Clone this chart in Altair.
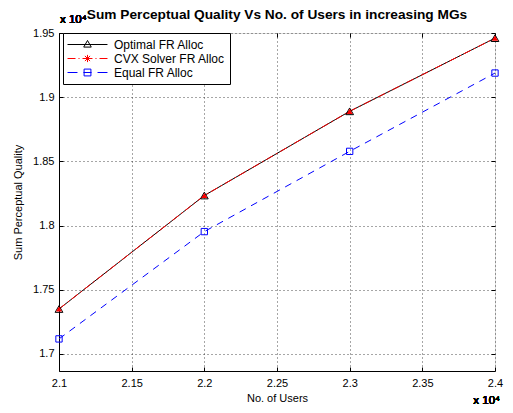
import altair as alt
import pandas as pd

# ---- data ----
users = [21000, 22000, 23000, 24000]
optimal = [17350, 18234, 18890, 19460]
cvx = [17350, 18234, 18890, 19460]
equal = [17117, 17953, 18578, 19188]
series_names = ["Optimal FR Alloc", "CVX Solver FR Alloc", "Equal FR Alloc"]
x_ticks = [21000, 21500, 22000, 22500, 23000, 23500, 24000]
y_ticks = [17000, 17500, 18000, 18500, 19000, 19500]

rows = []
for name, vals in zip(series_names, [optimal, cvx, equal]):
    for u, v in zip(users, vals):
        rows.append({"users": u, "quality": v, "series": name})
df = pd.DataFrame(rows)

FONT = "Liberation Sans"
W, H = 436, 338
xscale = alt.Scale(domain=[21000, 24000], nice=False, zero=False)
yscale = alt.Scale(domain=[16867, 19500], nice=False, zero=False)

xaxis = alt.Axis(values=x_ticks, labelExpr="format(datum.value/10000, '.3~g')",
                 title="No. of Users", grid=True, gridDash=[1, 3], gridColor="#222",
                 gridOpacity=0.8, ticks=False, domainColor="black", domainWidth=1,
                 labelFontSize=11, titleFontSize=11, labelFont=FONT, titleFont=FONT,
                 titleFontWeight="normal", labelPadding=6, titlePadding=4,
                 labelColor="black", titleColor="black", labelFlush=False,
                 labelOverlap=False, orient="bottom")
yaxis = alt.Axis(values=y_ticks, labelExpr="format(datum.value/10000, '.3~g')",
                 title="Sum Perceptual Quality", grid=True, gridDash=[1, 3],
                 gridColor="#222", gridOpacity=0.8, ticks=False, domainColor="black",
                 domainWidth=1, labelFontSize=11, titleFontSize=11, labelFont=FONT,
                 titleFont=FONT, titleFontWeight="normal", labelPadding=5,
                 titlePadding=9, labelColor="black", titleColor="black",
                 labelFlush=False, labelOverlap=False, orient="left")


def tick_axis(values, orient):
    # inward tick marks: axis pulled 4px inside the frame, ticks pointing out to it
    return alt.Axis(values=values, orient=orient, offset=-4, tickSize=4,
                    tickColor="black", tickWidth=1, labels=False, domain=False,
                    grid=False, title=None)


base = alt.Chart(df)


def xy(xa=None, ya=None):
    return dict(
        x=alt.X("users:Q", scale=xscale, axis=xa, title="No. of Users"),
        y=alt.Y("quality:Q", scale=yscale, axis=ya, title="Sum Perceptual Quality"),
    )


line_opt = base.transform_filter(alt.datum.series == series_names[0]).mark_line(
    color="black", strokeWidth=1).encode(**xy(xaxis, yaxis))
line_cvx = base.transform_filter(alt.datum.series == series_names[1]).mark_line(
    color="red", strokeWidth=1, strokeDash=[8, 3, 2, 3]).encode(
    **xy(tick_axis(x_ticks, "bottom"), tick_axis(y_ticks, "left")))
line_eq = base.transform_filter(alt.datum.series == series_names[2]).mark_line(
    color="blue", strokeWidth=1, strokeDash=[7, 6]).encode(
    **xy(tick_axis(x_ticks, "top"), tick_axis(y_ticks, "right")))

pt_opt = base.transform_filter(alt.datum.series == series_names[0]).mark_point(
    shape="triangle-up", filled=False, color="black", size=60, strokeWidth=1,
    opacity=1).encode(**xy())
pt_cvx = base.transform_filter(alt.datum.series == series_names[1]).mark_point(
    shape="triangle-up", filled=True, color="red", size=36, opacity=1).encode(**xy())
pt_eq = base.transform_filter(alt.datum.series == series_names[2]).mark_point(
    shape="square", filled=False, color="blue", size=40, strokeWidth=1,
    opacity=1).encode(**xy())

# legend symbols: line segment + marker, drawn as path shapes (unit = 6 px)
sym_opt = "M-3.33,0H3.33M0,-0.67L0.63,0.43L-0.63,0.43Z"
sym_cvx = ("M-3.33,0H-2M-1.5,0H-1.33M-0.83,0H0.83M1.33,0H1.5M2,0H3.33"
           "M0,-0.6V0.6M-0.6,0H0.6M-0.43,-0.43L0.43,0.43M-0.43,0.43L0.43,-0.43")
sym_eq = "M-3.33,0H-1.67M-0.67,0H0.67M1.67,0H3.33M-0.57,-0.57H0.57V0.57H-0.57Z"

leg = alt.Legend(title=None, orient="none", legendX=4, legendY=0,
                 strokeColor="black", fillColor="white", padding=5,
                 symbolSize=144, symbolStrokeWidth=1, symbolOpacity=1,
                 symbolFillColor="transparent", labelFont=FONT, labelFontSize=12,
                 labelColor="black", labelOffset=20, rowPadding=1, symbolOffset=13,
                 cornerRadius=0)
legend_layer = base.mark_point(opacity=0, filled=False, strokeWidth=1).encode(
    **xy(),
    color=alt.Color("series:N", scale=alt.Scale(domain=series_names,
                                                range=["black", "red", "blue"]),
                    legend=leg),
    shape=alt.Shape("series:N", scale=alt.Scale(domain=series_names,
                                                range=[sym_opt, sym_cvx, sym_eq]),
                    legend=leg),
)

note_top = base.mark_text(text="x 10⁴", align="left", baseline="alphabetic",
                          font=FONT, fontSize=11.5, fontWeight="normal",
                          color="black").encode(x=alt.value(1), y=alt.value(-10))
note_bot = base.mark_text(text="x 10⁴", align="right", baseline="alphabetic",
                          font=FONT, fontSize=11.5, fontWeight="normal",
                          color="black").encode(x=alt.value(W + 5), y=alt.value(H + 33))

chart = alt.layer(
    line_opt, line_cvx, line_eq, pt_opt, pt_cvx, pt_eq, legend_layer,
    note_top, note_bot,
).resolve_axis(x="independent", y="independent").properties(
    width=W, height=H,
    title=alt.TitleParams("Sum Perceptual Quality Vs No. of Users in increasing MGs",
                          font=FONT, fontSize=13.7, fontWeight="bold", color="black",
                          anchor="middle", frame="group", offset=-8),
    padding={"left": 51, "top": 25, "right": 10, "bottom": 34},
    autosize=alt.AutoSizeParams(type="none"),
).configure_view(stroke="black", strokeWidth=1).configure(background="white")

chart.save("out.html", embed_options={"renderer": "svg", "actions": False})
